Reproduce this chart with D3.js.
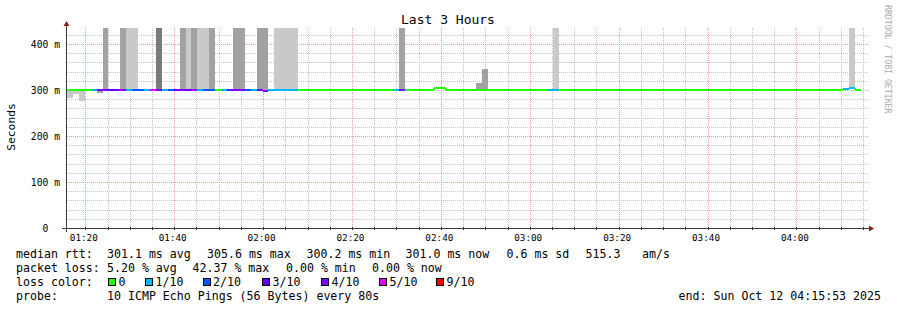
<!DOCTYPE html>
<html>
<head>
<meta charset="utf-8">
<script src="https://cdn.jsdelivr.net/npm/d3@7"></script>
<style>
  html, body { margin: 0; padding: 0; background: #fff; }
  text { font-family: "DejaVu Sans Mono", monospace; white-space: pre; }
</style>
</head>
<body>
<div id="chart"></div>
<script>
// Time range of the graph (3 hours, one RRD step = 80s).
const endTime = new Date(2025, 9, 12, 4, 15, 53);
const startTime = new Date(2025, 9, 12, 1, 15, 53);
const stepSeconds = 80;

// Median rtt per step (seconds), null = no data yet.
const median = [
  0.3008, 0.3009, 0.3009, 0.3008, 0.3009, 0.3008, 0.3009, 0.3009, 0.3008, 0.3009,
  0.3009, 0.3008, 0.3009, 0.3008, 0.3009, 0.3009, 0.3008, 0.3009, 0.3009, 0.3008,
  0.3009, 0.3009, 0.3008, 0.3009, 0.3008, 0.3007, 0.3009, 0.3008, 0.3009, 0.3009,
  0.3008, 0.3009, 0.3009, 0.2978, 0.3008, 0.3009, 0.3008, 0.3009, 0.3008, 0.3007,
  0.3008, 0.3009, 0.3008, 0.3007, 0.3008, 0.3009, 0.3008, 0.3008, 0.3009, 0.3008,
  0.3007, 0.3008, 0.3009, 0.3008, 0.3008, 0.3009, 0.3009, 0.3008, 0.3009, 0.3008,
  0.3007, 0.3008, 0.3050, 0.3053, 0.3008, 0.3009, 0.3008, 0.3007, 0.3008, 0.3009,
  0.3009, 0.3008, 0.3009, 0.3008, 0.3007, 0.3008, 0.3009, 0.3008, 0.3008, 0.3009,
  0.3008, 0.3009, 0.3009, 0.3008, 0.3007, 0.3008, 0.3009, 0.3008, 0.3008, 0.3009,
  0.3008, 0.3007, 0.3008, 0.3009, 0.3008, 0.3008, 0.3009, 0.3008, 0.3007, 0.3008,
  0.3009, 0.3008, 0.3008, 0.3009, 0.3008, 0.3007, 0.3008, 0.3009, 0.3008, 0.3008,
  0.3009, 0.3008, 0.3007, 0.3008, 0.3009, 0.3008, 0.3008, 0.3009, 0.3008, 0.3007,
  0.3008, 0.3009, 0.3008, 0.3008, 0.3009, 0.3008, 0.3007, 0.3008, 0.3009, 0.3008,
  0.3008, 0.3030, 0.3052, 0.3008, null
];

// Lost pings (of 10) per step.
const loss = [
  0, 0, 0, 0, 1, 4, 4, 3, 4, 4,
  1, 2, 2, 1, 5, 4, 1, 2, 4, 4,
  3, 4, 1, 2, 2, 0, 1, 4, 4, 4,
  2, 1, 4, 4, 1, 1, 1, 1, 1, 0,
  0, 0, 0, 0, 0, 0, 0, 0, 0, 0,
  0, 0, 0, 0, 0, 1, 4, 0, 0, 0,
  0, 0, 0, 0, 0, 0, 0, 0, 0, 0,
  0, 0, 0, 0, 0, 0, 0, 0, 0, 0,
  0, 1, 1, 0, 0, 0, 0, 0, 0, 0,
  0, 0, 0, 0, 0, 0, 0, 0, 0, 0,
  0, 0, 0, 0, 0, 0, 0, 0, 0, 0,
  0, 0, 0, 0, 0, 0, 0, 0, 0, 0,
  0, 0, 0, 0, 0, 0, 0, 0, 0, 0,
  0, 1, 1, 0, null
];

// Smoke (spread of the pings): step, low, high, shade.
const smokeStep  = [0, 1, 2, 5, 6, 9, 10, 11, 15, 19, 20, 21, 22, 23, 24, 28, 29, 32, 33, 35, 36, 37, 38, 56, 69, 70, 82, 132];
const smokeLo    = [0.283, 0.292, 0.277, 0.294, 0.301, 0.301, 0.301, 0.301, 0.301, 0.301, 0.301, 0.301, 0.301, 0.301,
                    0.301, 0.301, 0.301, 0.301, 0.301, 0.301, 0.301, 0.301, 0.301, 0.301, 0.301, 0.301, 0.301, 0.303];
const smokeHi    = [0.300, 0.300, 0.300, 0.300, 0.46, 0.46, 0.46, 0.46, 0.46, 0.46, 0.46, 0.46, 0.46, 0.46,
                    0.46, 0.46, 0.46, 0.46, 0.46, 0.46, 0.46, 0.46, 0.46, 0.46, 0.316, 0.346, 0.46, 0.46];
const smokeShade = [0, 0, 0, 1, 1, 1, 0, 0, 2, 1, 0, 1, 0, 0, 1, 1, 1, 1, 1, 0, 0, 0, 0, 1, 1, 1, 0, 0];
const shadeColors = ['#c9c9c9', '#a2a2a2', '#7b7b7b'];

// Loss colour legend.
const lossLabels = ['0', '1/10', '2/10', '3/10', '4/10', '5/10', '9/10'];
const lossColors = ['#26ff00', '#00b8ff', '#0059ff', '#5e00ff', '#7e00ff', '#dd00ff', '#ff0000'];

const yTicks = [0, 0.1, 0.2, 0.3, 0.4];
const yTickLabels = ['0  ', '100 m', '200 m', '300 m', '400 m'];

// Legend texts, one entry per rrdtool legend item.
const rttItems = ['median rtt:', '301.1 ms avg', '305.6 ms max', '300.2 ms min', '301.0 ms now', '0.6 ms sd', '515.3', 'am/s'];
const lossItems = ['packet loss:', '5.20 % avg', '42.37 % max', '0.00 % min', '0.00 % now'];
const probeItems = ['probe:', '10 ICMP Echo Pings (56 Bytes) every 80s'];
const endText = 'end: Sun Oct 12 04:15:53 2025';

const width = 897;
const height = 310;
const pLeft = 67, pRight = 867, pTop = 28, pBottom = 228;

let svg = d3.select('#chart')
  .append('svg')
  .attr('width', width)
  .attr('height', height);

svg.append('rect').attr('width', width).attr('height', height).attr('fill', '#fff');

let x = d3.scaleTime().domain([startTime, endTime]).range([pLeft, pRight]);
let y = d3.scaleLinear().domain([0, 0.4348]).range([pBottom, pTop]);

let stepStart = i => new Date(+startTime + i * stepSeconds * 1000);
let lossColor = n => lossColors[n >= 9 ? 6 : Math.min(n, 5)];

svg.append('clipPath').attr('id', 'plot')
  .append('rect')
  .attr('x', pLeft).attr('y', pTop)
  .attr('width', pRight - pLeft).attr('height', pBottom - pTop);

// Minor grid.
let grid = svg.append('g').attr('shape-rendering', 'crispEdges');
grid.selectAll('line.ymin')
  .data(d3.range(0.02, 0.44, 0.02))
  .enter()
  .append('line')
    .attr('x1', pLeft).attr('x2', pRight + 1)
    .attr('y1', d => Math.round(y(d)) + 0.5).attr('y2', d => Math.round(y(d)) + 0.5)
    .attr('stroke', '#c4c4c4')
    .attr('stroke-dasharray', '1,1');
grid.selectAll('line.xmin')
  .data(x.ticks(d3.timeMinute.every(5)))
  .enter()
  .append('line')
    .attr('x1', d => Math.round(x(d)) + 0.5).attr('x2', d => Math.round(x(d)) + 0.5)
    .attr('y1', pTop).attr('y2', pBottom)
    .attr('stroke', '#c4c4c4')
    .attr('stroke-dasharray', '1,1');

// Major grid.
grid.selectAll('line.ymaj')
  .data(yTicks.slice(1))
  .enter()
  .append('line')
    .attr('x1', pLeft).attr('x2', pRight + 1)
    .attr('y1', d => Math.round(y(d)) + 0.5).attr('y2', d => Math.round(y(d)) + 0.5)
    .attr('stroke', '#f09a9a')
    .attr('stroke-dasharray', '1,1');
grid.selectAll('line.xmaj')
  .data(x.ticks(d3.timeMinute.every(20)))
  .enter()
  .append('line')
    .attr('x1', d => Math.round(x(d)) + 0.5).attr('x2', d => Math.round(x(d)) + 0.5)
    .attr('y1', pTop).attr('y2', pBottom)
    .attr('stroke', '#f09a9a')
    .attr('stroke-dasharray', '1,1');

// Smoke.
svg.append('g')
  .attr('clip-path', 'url(#plot)')
  .attr('shape-rendering', 'crispEdges')
  .selectAll('rect')
  .data(d3.range(smokeStep.length))
  .enter()
  .append('rect')
    .attr('x', i => Math.round(x(stepStart(smokeStep[i]))))
    .attr('width', i => Math.round(x(stepStart(smokeStep[i] + 1))) - Math.round(x(stepStart(smokeStep[i]))))
    .attr('y', i => y(smokeHi[i]))
    .attr('height', i => y(smokeLo[i]) - y(smokeHi[i]))
    .attr('fill', i => shadeColors[smokeShade[i]]);

// Median line, coloured by loss.
let steps = d3.range(median.length).filter(i => median[i] !== null);
let med = svg.append('g').attr('shape-rendering', 'crispEdges');
med.selectAll('line.v')
  .data(steps.filter(i => i > 0 && median[i - 1] !== null && Math.abs(y(median[i]) - y(median[i - 1])) > 1))
  .enter()
  .append('line')
    .attr('x1', i => Math.round(x(stepStart(i))))
    .attr('x2', i => Math.round(x(stepStart(i))))
    .attr('y1', i => y(median[i - 1]))
    .attr('y2', i => y(median[i]))
    .attr('stroke', i => lossColor(loss[i]))
    .attr('stroke-width', 2);
med.selectAll('line.h')
  .data(steps)
  .enter()
  .append('line')
    .attr('x1', i => Math.round(x(stepStart(i))))
    .attr('x2', i => Math.round(x(stepStart(i + 1))))
    .attr('y1', i => y(median[i]))
    .attr('y2', i => y(median[i]))
    .attr('stroke', i => lossColor(loss[i]))
    .attr('stroke-width', 2);

// Axes.
let axisColor = '#3a3a3a';
let arrowColor = '#8b1c1c';
svg.append('line')
  .attr('x1', pLeft - 5).attr('x2', pRight + 3)
  .attr('y1', pBottom + 0.5).attr('y2', pBottom + 0.5)
  .attr('stroke', axisColor);
svg.append('line')
  .attr('x1', pLeft - 0.5).attr('x2', pLeft - 0.5)
  .attr('y1', pTop - 2).attr('y2', pBottom + 4)
  .attr('stroke', axisColor);
svg.append('path')
  .attr('d', `M${pRight + 2},${pBottom - 2.5}L${pRight + 7},${pBottom + 0.5}L${pRight + 2},${pBottom + 3.5}Z`)
  .attr('fill', arrowColor);
svg.append('path')
  .attr('d', `M${pLeft - 3.5},${pTop - 2}L${pLeft - 0.5},${pTop - 7}L${pLeft + 2.5},${pTop - 2}Z`)
  .attr('fill', arrowColor);

// Tick marks on the time axis.
svg.append('g').selectAll('line')
  .data(x.ticks(d3.timeMinute.every(5)))
  .enter()
  .append('line')
    .attr('x1', d => Math.round(x(d)) + 0.5).attr('x2', d => Math.round(x(d)) + 0.5)
    .attr('y1', pBottom - 1).attr('y2', pBottom + 2)
    .attr('stroke', axisColor);

// Tick labels.
svg.append('g').selectAll('text')
  .data(yTicks)
  .enter()
  .append('text')
    .attr('x', 60)
    .attr('y', d => y(d) + 3.5)
    .attr('text-anchor', 'end')
    .attr('font-size', '9.7px')
    .attr('fill', '#000')
    .text((d, i) => yTickLabels[i]);

svg.append('g').selectAll('text')
  .data(x.ticks(d3.timeMinute.every(20)))
  .enter()
  .append('text')
    .attr('x', d => x(d) - 1.5)
    .attr('y', pBottom + 13)
    .attr('text-anchor', 'middle')
    .attr('font-size', '9.3px')
    .text(d => d3.timeFormat('%H:%M')(d));

// Title, vertical label, watermark.
svg.append('text')
  .attr('x', 448).attr('y', 24)
  .attr('text-anchor', 'middle')
  .attr('font-size', '13px')
  .text('Last 3 Hours');

svg.append('text')
  .attr('transform', 'translate(15,127) rotate(-90)')
  .attr('text-anchor', 'middle')
  .attr('font-size', '11.3px')
  .text('Seconds');

svg.append('text')
  .attr('transform', 'translate(885,5) rotate(90)')
  .attr('font-size', '8.2px')
  .attr('fill', '#aaaaaa')
  .text('RRDTOOL / TOBI OETIKER');

// Legend.
let legend = svg.append('g').attr('font-size', '11.6px');
let legendRow = (items, xs, baseline) => {
  legend.append('g').selectAll('text')
    .data(items)
    .enter()
    .append('text')
      .attr('x', (d, i) => xs[i])
      .attr('y', baseline)
      .text(d => d);
};
legendRow(rttItems, [16, 107, 207, 306.5, 405.5, 506.5, 585.5, 642], 258);
legendRow(lossItems, [16, 107, 192.5, 286, 372], 272);
legendRow(['loss color:'], [16], 286);
legendRow(probeItems, [16, 107], 300);

const boxX = [108.5, 145.5, 203, 262.5, 321.5, 379.5, 436.5];
legend.selectAll('rect.box')
  .data(lossColors)
  .enter()
  .append('rect')
    .attr('x', (d, i) => boxX[i])
    .attr('y', 278)
    .attr('width', 7)
    .attr('height', 7)
    .attr('fill', d => d)
    .attr('stroke', '#000')
    .attr('shape-rendering', 'crispEdges');
legend.selectAll('text.loss')
  .data(lossLabels)
  .enter()
  .append('text')
    .attr('x', (d, i) => boxX[i] + 10)
    .attr('y', 286)
    .text(d => d);

legend.append('text').attr('x', 881).attr('y', 300).attr('text-anchor', 'end').text(endText);
</script>
</body>
</html>
